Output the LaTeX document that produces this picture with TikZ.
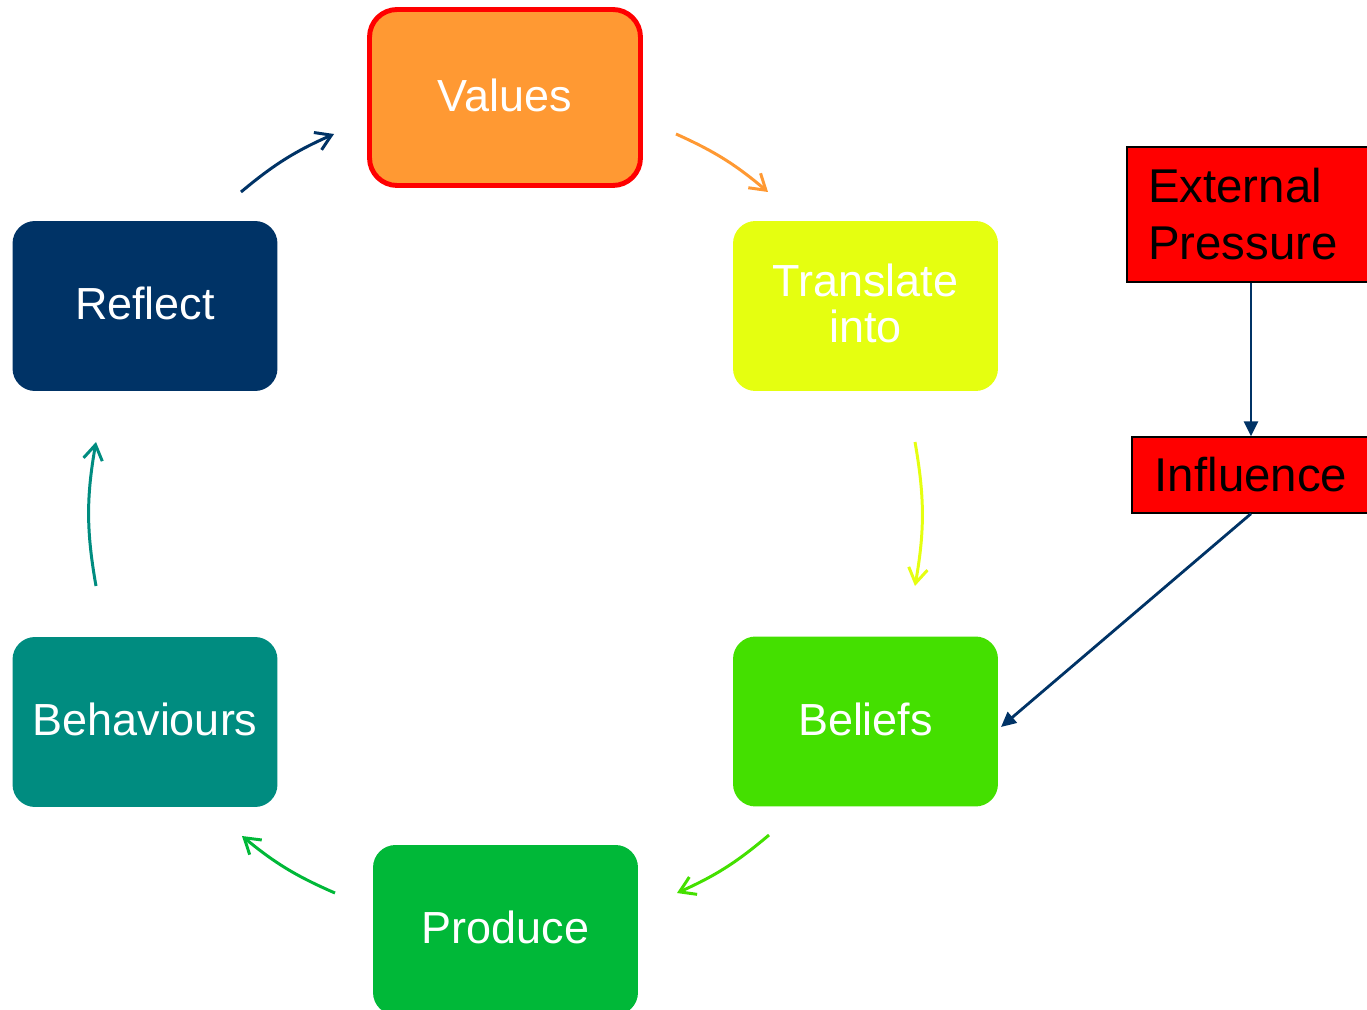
\documentclass[tikz,border=0pt]{standalone}
\usepackage{fontspec}
\setmainfont{Liberation Sans}
\usetikzlibrary{arrows.meta}
\definecolor{valorange}{HTML}{FF9933}
\definecolor{translime}{HTML}{E5FF10}
\definecolor{beliefgreen}{HTML}{44E000}
\definecolor{producegreen}{HTML}{00B838}
\definecolor{behavteal}{HTML}{008C80}
\definecolor{reflectnavy}{HTML}{003366}
\tikzset{
  cyclebox/.style={rectangle, rounded corners=0.45cm, minimum width=5.3cm,
    minimum height=3.4cm, text=white, align=center, text depth=0.1cm,
    font=\fontsize{25.6}{26}\selectfont},
  redbox/.style={rectangle, draw=black, fill=red, line width=0.8pt,
    font=\fontsize{27}{32.4}\selectfont},
  cyclearrow/.style={line width=1.7pt, -{Straight Barb[length=3mm,width=3.8mm]}},
  push/.style={reflectnavy, line width=1.6pt, -{Triangle[length=3mm,width=2.8mm]}}
}

\begin{document}
\begin{tikzpicture}[x=0.02cm, y=-0.02cm]
\useasboundingbox (0,0) rectangle (1367,1010);
%
\node[cyclebox, fill=valorange, draw=red, line width=2.8pt, rounded corners=0.55cm,
  minimum width=5.42cm, minimum height=3.52cm] (values) at (505,97.5) {Values};
\node[cyclebox, fill=translime] (translate) at (865.5,306) {Translate\\into};
\node[cyclebox, fill=beliefgreen] (beliefs) at (865.5,721.5) {Beliefs};
\node[cyclebox, fill=producegreen] (produce) at (505.5,930) {Produce};
\node[cyclebox, fill=behavteal] (behaviours) at (145,722) {Behaviours};
\node[cyclebox, fill=reflectnavy] (reflect) at (145,306) {Reflect};
%
\node[redbox, text width=4.12cm, inner xsep=0.42cm, align=left,
  minimum height=2.7cm] (pressure) at (1251,214.5) {External\\Pressure};
\node[redbox, minimum width=4.76cm, minimum height=1.52cm] (influence) at (1251,475) {Influence};
%
\coordinate (va1) at (676,134);
\coordinate (va2) at (768,192);
\coordinate (tb1) at (915,442);
\coordinate (tb2) at (915,586);
\coordinate (bp1) at (769,835);
\coordinate (bp2) at (677,893);
\coordinate (pb1) at (335,893);
\coordinate (pb2) at (242,836);
\coordinate (br1) at (96,586);
\coordinate (br2) at (96,442);
\coordinate (rv1) at (241,192);
\coordinate (rv2) at (334,134);
\coordinate (hit) at (1001,727);
%
\foreach \Source/\Target/\Col/\Bend in {%
        va1/va2/valorange/8,
        tb1/tb2/translime/10,
        bp1/bp2/beliefgreen/8,
        pb1/pb2/producegreen/8,
        br1/br2/behavteal/10,
        rv1/rv2/reflectnavy/8%
    }
\draw[cyclearrow, \Col] (\Source) to[bend left=\Bend] (\Target);
%
\draw[push] (pressure) -- (influence);
\draw[push] (influence.south) -- (hit);
\end{tikzpicture}
\end{document}
